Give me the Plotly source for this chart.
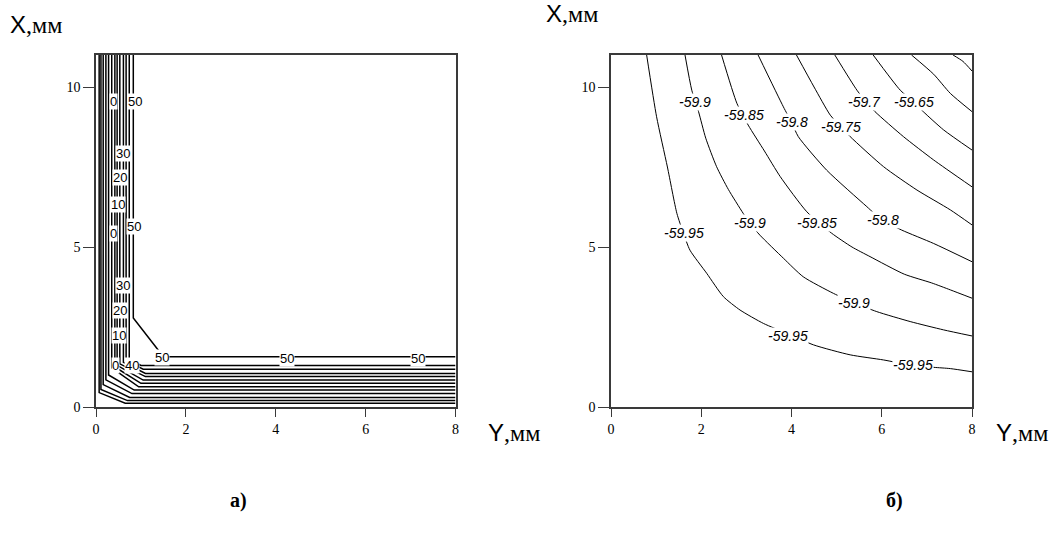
import plotly.graph_objects as go

W, H = 1053, 533

# ---------------- Plot a) data (L-shaped isolines) ----------------
a_vert_x   = [0.83, 0.74, 0.67, 0.61, 0.53, 0.47, 0.42, 0.35, 0.28, 0.22, 0.16, 0.11, 0.07]
a_corner_y = [2.78, 1.50, 1.45, 1.40, 1.35, 1.30, 1.25, 1.22, 1.00, 0.85, 0.70, 0.55, 0.45]
a_corner_x = [1.50, 1.00, 1.05, 1.10, 1.10, 1.05, 1.00, 0.95, 0.85, 0.80, 0.75, 0.70, 0.65]
a_horiz_y  = [1.57, 1.30, 1.18, 1.05, 0.95, 0.84, 0.74, 0.63, 0.53, 0.42, 0.30, 0.20, 0.12]
a_top, a_right = 11.0, 8.0

a_label_text = ["0", "50", "30", "20", "10", "0", "50", "30", "20", "10", "0", "40", "50", "50", "50"]
a_label_x    = [0.38, 0.86, 0.61, 0.53, 0.50, 0.40, 0.84, 0.61, 0.53, 0.52, 0.44, 0.79, 1.46, 4.24, 7.16]
a_label_y    = [9.54, 9.54, 7.93, 7.18, 6.34, 5.43, 5.63, 3.81, 3.03, 2.25, 1.31, 1.31, 1.54, 1.52, 1.52]

# ---------------- Plot б) data (isolines) ----------------
b_levels = ["-59.95", "-59.9", "-59.85", "-59.8", "-59.75", "-59.7", "-59.65", "-59.6", "-59.55"]
b_x_5995 = [0.79, 1.01, 1.25, 1.46, 1.60, 1.75, 2.12, 2.49, 2.86, 3.38, 3.90, 4.49, 5.30, 6.04, 6.60, 7.15, 7.52, 8.00]
b_y_5995 = [11.0, 9.07, 7.50, 6.05, 5.45, 4.90, 4.18, 3.45, 3.03, 2.61, 2.30, 1.94, 1.63, 1.47, 1.32, 1.24, 1.20, 1.10]
b_x_5990 = [1.64, 1.79, 1.94, 2.10, 2.34, 2.60, 2.93, 3.10, 3.30, 3.82, 4.26, 4.93, 5.40, 5.89, 6.63, 7.37, 8.00]
b_y_5990 = [11.0, 9.90, 9.23, 8.40, 7.51, 6.80, 6.05, 5.70, 5.37, 4.65, 4.07, 3.55, 3.25, 2.98, 2.67, 2.41, 2.22]
b_x_5985 = [2.45, 2.79, 3.04, 3.40, 3.75, 4.34, 4.89, 5.34, 5.74, 6.50, 7.10, 7.52, 8.00]
b_y_5985 = [11.0, 9.49, 8.81, 8.00, 7.20, 6.10, 5.43, 5.00, 4.70, 4.15, 3.88, 3.66, 3.40]
b_x_5980 = [3.26, 3.82, 4.00, 4.15, 4.78, 5.67, 6.00, 6.44, 7.15, 8.00]
b_y_5980 = [11.0, 9.38, 8.90, 8.45, 7.40, 6.26, 5.85, 5.53, 5.11, 4.54]
b_x_5975 = [4.11, 4.50, 4.86, 5.10, 5.30, 6.04, 6.78, 7.52, 8.00]
b_y_5975 = [11.0, 10.0, 9.12, 8.75, 8.45, 7.51, 6.78, 6.16, 5.69]
b_x_5970 = [4.96, 5.45, 5.65, 5.85, 6.48, 7.15, 8.00]
b_y_5970 = [11.0, 9.90, 9.54, 9.23, 8.45, 7.72, 6.88]
b_x_5965 = [5.81, 6.41, 6.70, 6.92, 7.37, 8.00]
b_y_5965 = [11.0, 9.90, 9.54, 9.23, 8.66, 8.03]
b_x_5960 = [6.66, 7.15, 7.52, 8.00]
b_y_5960 = [11.0, 10.4, 9.80, 9.23]
b_x_5955 = [7.58, 7.80, 8.00]
b_y_5955 = [11.0, 10.8, 10.5]

b_label_text = ["-59.95", "-59.95", "-59.95", "-59.9", "-59.9", "-59.9",
                "-59.85", "-59.85", "-59.8", "-59.8", "-59.75", "-59.7", "-59.65"]
b_label_x    = [1.62, 3.92, 6.70, 1.86, 3.07, 5.39, 2.95, 4.57, 4.01, 6.03, 5.10, 5.61, 6.72]
b_label_y    = [5.43, 2.22, 1.31, 9.54, 5.74, 3.24, 9.12, 5.74, 8.92, 5.84, 8.75, 9.54, 9.54]

x_ticks = [0, 2, 4, 6, 8]
y_ticks = [0, 5, 10]

fig = go.Figure()

# plot a lines
for vx, cy, cx, hy in zip(a_vert_x, a_corner_y, a_corner_x, a_horiz_y):
    fig.add_trace(go.Scatter(x=[vx, vx, cx, a_right], y=[a_top, cy, hy, hy],
                             mode="lines", line=dict(color="black", width=1.5),
                             xaxis="x", yaxis="y", showlegend=False, hoverinfo="skip"))

# plot б lines
b_lines = [(b_x_5995, b_y_5995), (b_x_5990, b_y_5990), (b_x_5985, b_y_5985),
           (b_x_5980, b_y_5980), (b_x_5975, b_y_5975), (b_x_5970, b_y_5970),
           (b_x_5965, b_y_5965), (b_x_5960, b_y_5960), (b_x_5955, b_y_5955)]
for (bx, by), lev in zip(b_lines, b_levels):
    fig.add_trace(go.Scatter(x=bx, y=by, mode="lines", name=lev,
                             line=dict(color="black", width=1, shape="spline", smoothing=0.6),
                             xaxis="x2", yaxis="y2", showlegend=False, hoverinfo="skip"))

ann = []
for t, x, y in zip(a_label_text, a_label_x, a_label_y):
    ann.append(dict(x=x, y=y, xref="x", yref="y", text=t, showarrow=False,
                    font=dict(family="Liberation Sans", size=13, color="black"),
                    bgcolor="white", borderpad=0))
for t, x, y in zip(b_label_text, b_label_x, b_label_y):
    ann.append(dict(x=x, y=y, xref="x2", yref="y2", text="<i>" + t + "</i>", showarrow=False,
                    font=dict(family="Liberation Sans", size=14, color="black"),
                    bgcolor="white", borderpad=0))


def title(text_main, px, py):
    return dict(x=px / W, y=1 - py / H, xref="paper", yref="paper", showarrow=False,
                xanchor="left", yanchor="middle",
                text=('<span style="font-family:Liberation Sans">' + text_main + '</span>'
                      '<span style="font-family:Liberation Serif">,мм</span>'),
                font=dict(size=24, color="black", family="Liberation Sans"))


ann += [title("X", 8, 24), title("X", 544, 14), title("Y", 486, 432), title("Y", 994, 432)]
ann += [dict(x=228 / W, y=1 - 514 / H, xref="paper", yref="paper", showarrow=False,
             text="<b>а)</b>", font=dict(family="Liberation Serif", size=20, color="black")),
        dict(x=905 / W, y=1 - 514 / H, xref="paper", yref="paper", showarrow=False,
             text="<b>б)</b>", font=dict(family="Liberation Serif", size=20, color="black"))]

axis_common = dict(showgrid=False, zeroline=False, showline=True, mirror=True,
                   linecolor="#3a3a3a", linewidth=1.5, ticks="outside", tickcolor="#3a3a3a",
                   tickwidth=1.3, tickfont=dict(family="Liberation Serif", size=14, color="black"),
                   automargin=False, fixedrange=True)

fig.update_layout(
    width=W, height=H, margin=dict(l=0, r=0, t=0, b=0),
    paper_bgcolor="white", plot_bgcolor="white",
    xaxis=dict(domain=[96 / W, 455.5 / W], range=[0, 8], tickvals=x_ticks, ticklen=8,
               anchor="y", **axis_common),
    yaxis=dict(domain=[1 - 407 / H, 1 - 55 / H], range=[0, 11], tickvals=y_ticks, ticklen=11,
               anchor="x", **axis_common),
    xaxis2=dict(domain=[611 / W, 972 / W], range=[0, 8], tickvals=x_ticks, ticklen=8,
                anchor="y2", **axis_common),
    yaxis2=dict(domain=[1 - 407 / H, 1 - 55 / H], range=[0, 11], tickvals=y_ticks, ticklen=11,
                anchor="x2", **axis_common),
    annotations=ann,
)

fig.write_html("out.html", config={"displayModeBar": False},
               post_script="document.body.style.margin='0';document.body.style.overflow='hidden';")
